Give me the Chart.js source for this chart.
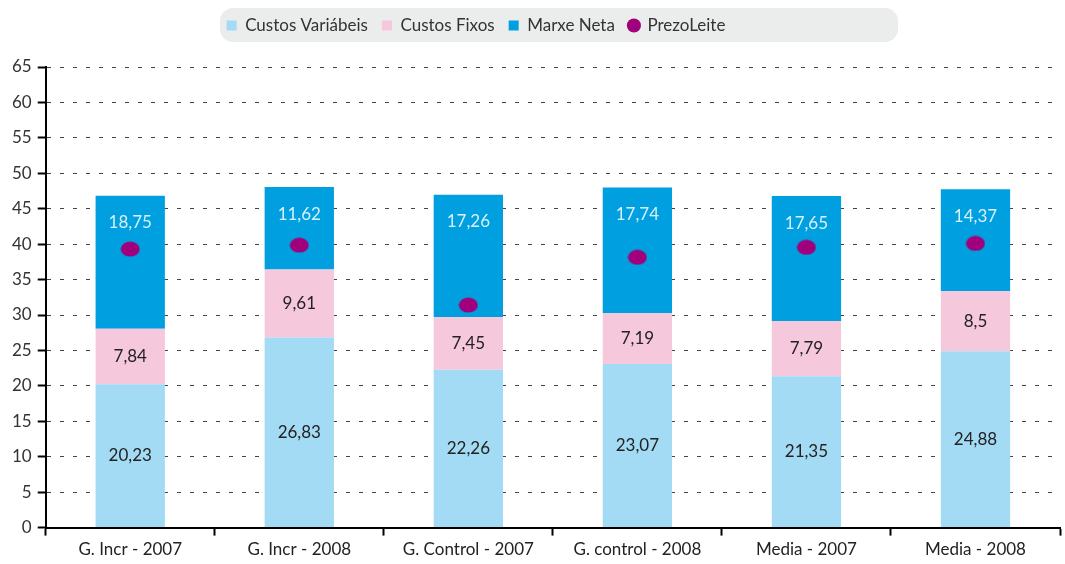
<!DOCTYPE html>
<html>
<head>
<meta charset="utf-8">
<script src="https://cdn.jsdelivr.net/npm/chart.js@4/dist/chart.umd.min.js"></script>
<style>
  html, body { margin: 0; padding: 0; background: #fff; }
  #wrap { width: 1065px; height: 564px; }
</style>
</head>
<body>
<div id="wrap"><canvas id="costChart"></canvas></div>
<script>
const categories = ['G. Incr - 2007', 'G. Incr - 2008', 'G. Control - 2007', 'G. control - 2008', 'Media - 2007', 'Media - 2008'];
const custosVariabeis = [20.23, 26.83, 22.26, 23.07, 21.35, 24.88];
const custosFixos = [7.84, 9.61, 7.45, 7.19, 7.79, 8.5];
const marxeNeta = [18.75, 11.62, 17.26, 17.74, 17.65, 14.37];
const prezoLeite = [39.3, 39.85, 31.4, 38.15, 39.55, 40.1];
const yTicks = [0, 5, 10, 15, 20, 25, 30, 35, 40, 45, 50, 55, 60, 65];

const FONT = "'Lato', sans-serif";

// elliptical marker for the price points
const dot = document.createElement('canvas');
dot.width = 20;
dot.height = 16;
const dctx = dot.getContext('2d');
dctx.fillStyle = '#a0007b';
dctx.beginPath();
dctx.ellipse(10, 8, 9.5, 7.5, 0, 0, Math.PI * 2);
dctx.fill();

function fmt(v) {
    return String(v).replace('.', ',');
}

const legendBackground = {
    id: 'legendBackground',
    beforeInit(chart) {
        const legend = chart.legend;
        const fit = legend.fit;
        legend.fit = function() {
            fit.call(legend);
            legend.height = 67;
        };
    },
    afterLayout(chart) {
        const legend = chart.legend;
        legend.left -= 58;
        legend.right -= 58;
        legend.top += 3;
    },
    beforeDraw(chart) {
        const c = chart.ctx;
        c.save();
        c.fillStyle = '#ebecec';
        c.beginPath();
        c.roundRect(220, 8, 678, 34, 13);
        c.fill();
        c.restore();
    }
};

const barLabels = {
    id: 'barLabels',
    afterDatasetsDraw(chart) {
        const c = chart.ctx;
        c.save();
        c.font = '17px ' + FONT;
        c.textAlign = 'center';
        c.textBaseline = 'middle';
        [0, 1, 2].forEach(di => {
            const meta = chart.getDatasetMeta(di);
            const values = chart.data.datasets[di].data;
            meta.data.forEach((el, i) => {
                let y = (el.y + el.base) / 2;
                c.fillStyle = '#222';
                if (di === 2) {
                    y = el.y + 27;
                    c.fillStyle = '#d8f0fb';
                }
                c.fillText(fmt(values[i]), el.x, y);
            });
        });
        c.restore();
    }
};

const ctx = document.getElementById('costChart').getContext('2d');
const costChart = new Chart(ctx, {
    data: {
        labels: categories,
        datasets: [
            {
                type: 'bar',
                label: 'Custos Variábeis',
                data: custosVariabeis,
                backgroundColor: '#a3daf4',
                stack: 'costs',
                order: 1
            },
            {
                type: 'bar',
                label: 'Custos Fixos',
                data: custosFixos,
                backgroundColor: '#f6c8dc',
                stack: 'costs',
                order: 1
            },
            {
                type: 'bar',
                label: 'Marxe Neta',
                data: marxeNeta,
                backgroundColor: '#009fe0',
                stack: 'costs',
                order: 1
            },
            {
                type: 'line',
                label: 'PrezoLeite',
                data: prezoLeite,
                showLine: false,
                pointStyle: dot,
                backgroundColor: '#a0007b',
                borderColor: '#a0007b',
                stack: 'price',
                order: 0
            }
        ]
    },
    plugins: [legendBackground, barLabels],
    options: {
        responsive: true,
        maintainAspectRatio: false,
        animation: false,
        layout: { padding: { top: 0, right: 3, left: 6, bottom: 0 } },
        datasets: {
            bar: { categoryPercentage: 1, barPercentage: 0.41 }
        },
        plugins: {
            tooltip: { enabled: false },
            legend: {
                position: 'top',
                align: 'center',
                labels: {
                    color: '#333',
                    font: { family: FONT, size: 17 },
                    boxWidth: 10,
                    boxHeight: 10,
                    padding: 14,
                    usePointStyle: true,
                    sort: (a, b) => a.datasetIndex - b.datasetIndex,
                    generateLabels(chart) {
                        const items = Chart.defaults.plugins.legend.labels.generateLabels(chart);
                        items.forEach(it => {
                            it.pointStyle = it.datasetIndex === 3 ? 'circle' : 'rect';
                            it.lineWidth = 0;
                        });
                        return items;
                    }
                }
            }
        },
        scales: {
            x: {
                stacked: true,
                grid: {
                    offset: true,
                    drawOnChartArea: false,
                    drawTicks: true,
                    tickLength: 8,
                    tickWidth: 2,
                    tickColor: '#000'
                },
                border: { color: '#000', width: 2 },
                ticks: {
                    color: '#222',
                    font: { family: FONT, size: 17 },
                    padding: 4,
                    maxRotation: 0
                }
            },
            y: {
                stacked: true,
                min: 0,
                max: 65,
                afterBuildTicks(scale) {
                    scale.ticks = yTicks.map(v => ({ value: v }));
                },
                grid: {
                    color: '#444',
                    lineWidth: 1,
                    tickLength: 8,
                    tickWidth: 2,
                    tickColor: '#000',
                    tickBorderDash: []
                },
                border: { color: '#000', width: 2, dash: [4, 9] },
                ticks: {
                    color: '#333',
                    font: { family: FONT, size: 17 },
                    padding: 6
                }
            }
        }
    }
});
</script>
</body>
</html>
